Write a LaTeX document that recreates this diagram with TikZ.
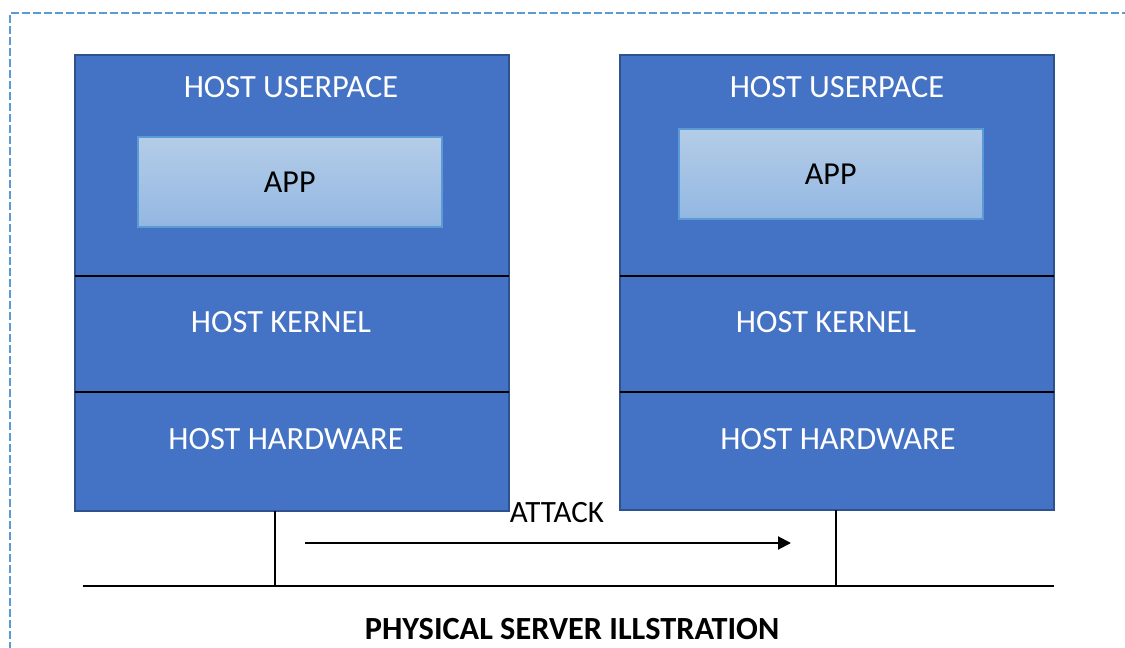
\documentclass[tikz,border=0pt]{standalone}
\usepackage{fontspec}
\setmainfont{Carlito}
\usetikzlibrary{arrows.meta}
\definecolor{layerblue}{HTML}{4472C4}
\definecolor{layeredge}{HTML}{2F528F}
\definecolor{apptop}{HTML}{B4CDE8}
\definecolor{appbottom}{HTML}{93B7E2}
\definecolor{appedge}{HTML}{5B9BD5}
\definecolor{frameblue}{HTML}{5B9BD5}
\tikzset{
  layer/.style={draw=none, fill=layerblue, minimum width=434pt, inner sep=0pt, anchor=north west},
  hosttext/.style={text=white, font=\fontsize{32.4}{38}\selectfont, inner sep=0pt},
  appbox/.style={draw=appedge, line width=1.5pt, top color=apptop, bottom color=appbottom,
    minimum width=304pt, minimum height=90pt, inner sep=0pt, anchor=north west,
    font=\fontsize{32}{38}\selectfont, text=black},
  divider/.style={black, line width=2pt},
  wire/.style={black, line width=2pt},
}
\begin{document}
\begin{tikzpicture}[x=1pt, y=-1pt]
\useasboundingbox (0,0) rectangle (1125,648);
\fill[white] (0,0) rectangle (1125,648);

% dashed frame, open to the right and bottom
\draw[frameblue, line width=2pt, dash pattern=on 8pt off 3pt]
  (10,650) -- (10,13) -- (1127,13);

% ---- left host stack ----
\node[layer, minimum height=221pt] (luser) at (75,55) {};
\node[layer, minimum height=116pt] (lkern) at (75,276) {};
\node[layer, minimum height=119pt] (lhw)   at (75,392) {};
\draw[layeredge, line width=2pt] (luser.north west) rectangle (lhw.south east);
\draw[divider] (luser.south west) -- (luser.south east);
\draw[divider] (lkern.south west) -- (lkern.south east);
\node[hosttext] (luserlbl) at (291,87) {HOST USERPACE};
\node[appbox] (lapp) at (137,136) {APP};
\node[hosttext] (lkernlbl) at (281,322) {HOST KERNEL};
\node[hosttext] (lhwlbl) at (286,439) {HOST HARDWARE};

% ---- right host stack ----
\node[layer, minimum height=221pt] (ruser) at (620,55) {};
\node[layer, minimum height=116pt] (rkern) at (620,276) {};
\node[layer, minimum height=118pt] (rhw)   at (620,392) {};
\draw[layeredge, line width=2pt] (ruser.north west) rectangle (rhw.south east);
\draw[divider] (ruser.south west) -- (ruser.south east);
\draw[divider] (rkern.south west) -- (rkern.south east);
\node[hosttext] (ruserlbl) at (837,87) {HOST USERPACE};
\node[appbox] (rapp) at (678,128) {APP};
\node[hosttext] (rkernlbl) at (826,322) {HOST KERNEL};
\node[hosttext] (rhwlbl) at (838,439) {HOST HARDWARE};

% ---- network bus ----
\coordinate (busL) at (83,586);
\coordinate (busR) at (1054,586);
\coordinate (tapL) at (275,586);
\coordinate (tapR) at (836,586);
\draw[wire] (busL) -- (busR);
\draw[wire] (lhw.south -| tapL) -- (tapL);
\draw[wire] (rhw.south -| tapR) -- (tapR);

% ---- attack arrow ----
\coordinate (atkA) at (305,543);
\coordinate (atkB) at (791,543);
\draw[wire, -{Triangle[length=13pt,width=13pt]}] (atkA) -- (atkB);
\node[font=\fontsize{31}{36}\selectfont, inner sep=0pt] (atklbl) at (557,513) {ATTACK};

% ---- caption ----
\node[font=\bfseries\fontsize{32.3}{38}\selectfont, inner sep=0pt] (caption) at (572,629) {PHYSICAL SERVER ILLSTRATION};
\end{tikzpicture}
\end{document}
